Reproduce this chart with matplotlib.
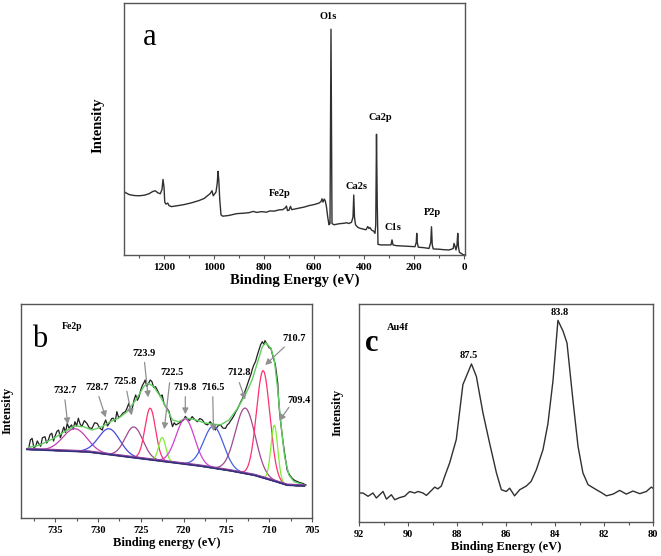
import numpy as np
import matplotlib
matplotlib.use("Agg")
import matplotlib.pyplot as plt
from matplotlib.ticker import MultipleLocator

plt.rcParams['font.family'] = ['Liberation Serif', 'DejaVu Serif']
plt.rcParams['font.weight'] = 'bold'

# ---------------- Panel a : survey spectrum ----------------
a_energy = [1360, 1340, 1320, 1300, 1280, 1260, 1245, 1235, 1225, 1215, 1208, 1204, 1200, 1197,
            1192, 1185, 1180, 1170, 1150, 1120, 1090, 1060, 1040, 1025, 1015, 1008, 1003, 998,
            992, 987, 984, 981, 977, 972, 965, 940, 910, 880, 860, 843, 830, 810, 790, 776, 760,
            740, 725, 716, 710, 706, 700, 694, 689, 680, 660, 640, 620, 600, 580, 572, 568, 564,
            559, 555, 550, 545, 540, 536, 534, 532, 530, 528, 520, 500, 480, 470, 460, 450, 444,
            441, 438, 434, 425, 416, 400, 392, 385, 380, 376, 370, 362, 356, 353, 350, 347, 344,
            330, 300, 292, 288, 284, 270, 250, 229, 210, 196, 191, 189, 187, 183, 160, 140, 133,
            130, 127, 123, 100, 80, 60, 50, 43, 40, 36, 32, 28, 25, 22, 18, 12, 5, -4]
a_intensity = [25.1, 24.0, 23.6, 23.5, 23.7, 24.3, 25.2, 25.5, 24.7, 24.3, 26.0, 30.0, 27.0, 21.0,
               20.2, 20.6, 19.6, 19.2, 19.5, 20.0, 20.7, 21.6, 22.4, 23.6, 24.4, 25.5, 23.5, 24.2,
               25.0, 28.5, 33.2, 30.0, 22.0, 15.9, 15.4, 15.7, 16.4, 16.6, 16.8, 17.3, 16.9, 17.2,
               17.0, 17.5, 17.4, 17.9, 18.0, 18.6, 19.4, 17.6, 17.8, 19.3, 18.0, 18.2, 18.6, 19.0,
               19.6, 20.0, 20.6, 21.2, 22.3, 21.0, 22.2, 21.5, 19.0, 15.0, 12.0, 12.5, 55.0, 89.6,
               50.0, 12.5, 12.0, 12.4, 12.6, 12.8, 12.5, 13.0, 15.0, 23.8, 15.0, 12.0, 11.0, 10.6,
               10.2, 10.0, 11.3, 10.5, 10.9, 9.9, 9.5, 8.6, 12.0, 47.9, 20.0, 4.2, 4.0, 4.0, 4.0,
               6.0, 4.0, 3.7, 3.6, 3.5, 3.4, 3.3, 5.0, 8.6, 5.0, 3.1, 2.9, 2.6, 5.0, 11.2, 4.0,
               2.4, 2.3, 2.1, 2.0, 2.3, 2.6, 4.6, 3.5, 2.0, 4.0, 8.6, 3.0, 1.0, 0.7, 0.2, 0.0]
a_labels = ["O1s", "Ca2p", "Ca2s", "Fe2p", "C1s", "P2p"]
a_label_pos = [(544, 94.8), (336, 54.4), (428, 27.0), (736, 24.6), (284, 11.1), (128, 17.0)]

# ---------------- Panel b : Fe2p ----------------
b_energy = [738.1, 737.9, 737.7, 737.5, 737.3, 737.1, 736.95, 736.7, 736.5, 736.2, 736.0, 735.8,
            735.6, 735.4, 735.2, 735.0, 734.8, 734.6, 734.4, 734.2, 734.0, 733.8, 733.6, 733.4,
            733.1, 732.9, 732.7, 732.5, 732.3, 732.1, 731.9, 731.6, 731.3, 731.0, 730.7, 730.4,
            730.1, 729.8, 729.5, 729.3, 729.1, 728.9, 728.7, 728.4, 728.2, 728.0, 727.8, 727.6,
            727.4, 727.1, 726.8, 726.6, 726.4, 726.2, 726.0, 725.8, 725.6, 725.4, 725.2, 725.0,
            724.8, 724.6, 724.5, 724.3, 724.1, 723.9, 723.7, 723.5, 723.3, 723.1, 722.9, 722.7,
            722.5, 722.3, 722.1, 721.9, 721.7, 721.5, 721.3, 721.1, 720.9, 720.6, 720.3, 720.0,
            719.8, 719.6, 719.3, 719.0, 718.7, 718.4, 718.1, 717.8, 717.5, 717.2, 716.9, 716.6,
            716.3, 716.0, 715.7, 715.4, 715.1, 714.9, 714.7, 714.5, 714.3, 714.1, 713.9, 713.7,
            713.5, 713.3, 713.1, 712.9, 712.7, 712.5, 712.3, 712.1, 712.0, 711.8, 711.6, 711.4,
            711.2, 711.0, 710.8, 710.6, 710.5, 710.3, 710.2, 710.0, 709.8, 709.6, 709.5, 709.3,
            709.2, 709.0, 708.95, 708.8, 708.6, 708.4, 708.2, 708.0, 707.9, 707.6, 707.3, 707.0,
            706.7, 706.4, 706.1, 705.9, 705.7]
b_intensity = [32.6, 36.5, 37.2, 33.0, 33.3, 36.0, 34.9, 33.5, 37.5, 38.0, 35.0, 36.5, 39.0, 39.6,
               36.0, 38.5, 40.5, 41.1, 37.5, 40.0, 42.5, 40.0, 44.2, 42.0, 43.5, 41.5, 45.0, 43.0,
               46.6, 44.0, 42.7, 45.5, 44.2, 42.0, 41.9, 44.5, 44.2, 42.0, 41.1, 44.0, 45.8, 43.0,
               44.2, 46.5, 46.6, 45.0, 49.7, 47.0, 47.4, 49.0, 49.7, 51.5, 53.6, 50.0, 51.2, 55.0,
               57.5, 55.0, 56.7, 60.0, 62.1, 63.5, 64.5, 61.5, 62.9, 64.5, 63.7, 61.0, 61.4, 60.0,
               58.3, 56.7, 57.5, 53.5, 52.0, 51.0, 49.7, 46.0, 42.7, 44.5, 43.5, 44.2, 45.0, 45.8,
               47.5, 46.6, 45.5, 47.4, 46.0, 45.0, 46.5, 45.8, 44.0, 43.5, 45.0, 43.5, 41.1, 43.0,
               43.5, 42.0, 41.9, 43.5, 44.2, 45.5, 46.6, 48.0, 49.7, 51.0, 52.8, 54.5, 55.9, 58.5,
               60.6, 63.0, 65.3, 67.5, 69.2, 71.5, 73.1, 76.0, 78.5, 81.0, 82.4, 81.0, 82.9, 81.5,
               80.8, 79.5, 79.3, 76.0, 74.6, 72.0, 69.2, 63.0, 58.3, 50.0, 42.7, 36.0, 30.2, 25.0,
               22.4, 20.0, 18.5, 17.5, 17.0, 16.5, 16.2, 15.8, 15.4]
b_env_energy = [738.1, 736.8, 735.2, 733.6, 732.7, 731.7, 730.7, 729.5, 728.6, 727.6, 726.6,
                725.6, 724.6, 724.1, 723.5, 722.7, 721.9, 721.3, 720.6, 719.8, 718.8, 717.6,
                716.6, 715.7, 714.7, 713.7, 712.7, 712.0, 711.4, 710.8, 710.4, 709.8, 709.4,
                709.0, 708.6, 708.2, 707.7, 707.1, 705.9]
b_env_intensity = [33.0, 34.1, 37.2, 41.1, 43.0, 42.7, 41.1, 42.7, 45.0, 46.6, 49.7, 55.1, 61.7,
                   62.9, 61.4, 56.7, 50.5, 45.8, 45.0, 46.6, 46.1, 44.5, 43.9, 43.5, 45.8, 51.2,
                   58.3, 64.5, 72.3, 80.1, 81.9, 79.3, 73.8, 59.8, 42.7, 28.7, 20.1, 17.0, 15.4]
b_bg_energy = [738.3, 731.3, 721.9, 718.8, 714.9, 711.8, 709.8, 707.9, 705.9]
b_bg_intensity = [32.1, 31.0, 26.3, 24.8, 22.4, 20.1, 17.8, 15.4, 15.0]
b_peak_centers = [732.7, 728.7, 725.8, 723.9, 722.5, 719.8, 716.5, 712.8, 710.7, 709.4]
b_peak_heights = [10.5, 12.0, 14.3, 24.0, 11.0, 21.0, 19.5, 30.5, 50.0, 26.0]
b_peak_sigmas = [1.4, 1.25, 1.03, 0.62, 0.42, 1.08, 1.16, 1.16, 0.78, 0.40]
b_peak_colors = ['#c040b0', '#4848e0', '#a04890', '#ff3070', '#80f030',
                 '#d040d0', '#4860e0', '#a04890', '#ff3070', '#80f030']
b_label_text = ["732.7", "728.7", "725.8", "723.9", "722.5", "719.8", "716.5", "712.8", "710.7", "709.4"]
b_label_pos = [(733.8, 59.8), (730.1, 61.2), (726.8, 63.6), (724.6, 77.1), (721.3, 67.8),
               (719.8, 61.2), (716.6, 61.2), (713.5, 67.8), (707.1, 84.1), (706.5, 55.1)]
b_arrow_tail = [(733.9, 56.5), (730.0, 58.0), (726.7, 60.5), (724.6, 74.0), (721.6, 64.5),
                (719.8, 58.0), (716.6, 58.0), (713.6, 64.5), (708.0, 80.8), (707.5, 52.8)]
b_arrow_head = [(733.5, 42.5), (729.0, 45.8), (726.0, 46.7), (724.1, 55.1), (722.3, 40.2),
                (719.8, 47.2), (716.5, 39.3), (712.7, 54.2), (710.7, 70.6), (709.0, 44.4)]

# ---------------- Panel c : Au4f ----------------
c_energy = [92.0, 91.84, 91.63, 91.43, 91.29, 91.02, 90.88, 90.68, 90.54, 90.34, 90.14, 89.93,
            89.73, 89.59, 89.39, 89.25, 89.12, 88.91, 88.78, 88.64, 88.50, 88.30, 88.03, 87.76,
            87.62, 87.41, 87.21, 86.94, 86.67, 86.39, 86.19, 85.99, 85.85, 85.65, 85.44, 85.17,
            84.97, 84.76, 84.49, 84.29, 84.08, 83.88, 83.67, 83.51, 83.27, 83.06, 82.86, 82.65,
            82.31, 82.11, 81.90, 81.63, 81.36, 81.09, 80.82, 80.54, 80.27, 80.07, 80.0]
c_intensity = [13.3, 13.3, 11.8, 13.3, 11.0, 14.0, 10.5, 12.5, 10.2, 11.2, 11.8, 14.0, 13.3, 14.0,
               13.3, 12.2, 13.6, 16.0, 15.2, 16.5, 21.0, 27.1, 37.8, 63.0, 66.8, 72.5, 66.8, 50.0,
               36.2, 22.5, 14.8, 14.0, 15.5, 12.0, 14.8, 16.5, 18.7, 24.0, 33.2, 45.0, 65.0, 92.5,
               87.5, 82.1, 56.1, 34.7, 22.5, 17.1, 14.8, 13.5, 12.0, 12.8, 14.5, 12.8, 14.2, 13.0,
               14.0, 16.0, 15.5]
c_labels = ["87.5", "83.8"]
c_label_pos = [(87.52, 76.6), (83.81, 95.9)]

W, H = 661, 556
fig = plt.figure(figsize=(W / 100, H / 100), dpi=100)
fig.patch.set_facecolor('white')

line_col = '#303030'
spine_col = '#555555'


def style_axes(ax, tick_fs):
    for s in ax.spines.values():
        s.set_color(spine_col)
        s.set_linewidth(1.0)
    ax.set_yticks([])
    ax.tick_params(axis='x', which='major', direction='out', length=3, width=0.8,
                   colors=spine_col, labelcolor='black', labelsize=tick_fs, pad=3)
    ax.tick_params(axis='x', which='minor', direction='out', length=2, width=0.8, colors=spine_col)
    for lbl in ax.get_xticklabels():
        lbl.set_fontweight('bold')


# Panel a
axa = fig.add_axes([124 / W, 1 - 255 / H, 341 / W, 252 / H])
axa.plot(a_energy, a_intensity, color=line_col, lw=1.0)
axa.set_xlim(1360, -4)
axa.set_ylim(0, 100)
axa.xaxis.set_major_locator(MultipleLocator(200))
axa.xaxis.set_minor_locator(MultipleLocator(100))
style_axes(axa, 8)
axa.set_xlabel("Binding Energy (eV)", fontsize=10.5, fontweight='bold', labelpad=1)
axa.text(1256, 86.5, "a", fontsize=22, fontweight='normal', ha='center', va='center')
for t, (x, y) in zip(a_labels, a_label_pos):
    axa.text(x, y, t, fontsize=7.5, fontweight='bold', ha='center', va='center')
fig.text(98 / W, 1 - 125 / H, "Intensity", rotation=90, fontsize=10.5, fontweight='bold',
         ha='center', va='center')

# Panel b
axb = fig.add_axes([21 / W, 1 - 518 / H, 291 / W, 214 / H])
xb = np.linspace(738.3, 705.9, 600)
bg = np.interp(xb, b_bg_energy[::-1], b_bg_intensity[::-1])
axb.plot(b_energy, b_intensity, color='#202020', lw=0.9)
axb.plot(b_env_energy, b_env_intensity, color='#60d060', lw=1.0)
for c, h, s, col in zip(b_peak_centers, b_peak_heights, b_peak_sigmas, b_peak_colors):
    axb.plot(xb, bg + h * np.exp(-(xb - c) ** 2 / (2 * s ** 2)), color=col, lw=0.9)
axb.plot(xb, bg, color='#303080', lw=1.4)
axb.plot(xb, bg + 0.5, color='#9040a0', lw=0.7)
axb.set_xlim(739, 705)
axb.set_ylim(0, 100)
axb.xaxis.set_major_locator(MultipleLocator(5))
axb.xaxis.set_minor_locator(MultipleLocator(2.5))
style_axes(axb, 7.5)
axb.set_xlabel("Binding energy (eV)", fontsize=9, fontweight='bold', labelpad=1)
axb.text(736.8, 83.2, "b", fontsize=22, fontweight='normal', ha='center', va='center')
axb.text(733.0, 89.3, "Fe2p", fontsize=7, fontweight='bold', ha='center', va='center')
for t, (x, y), tail, head in zip(b_label_text, b_label_pos, b_arrow_tail, b_arrow_head):
    axb.text(x, y, t, fontsize=7.5, fontweight='bold', ha='center', va='center')
    axb.annotate("", xy=head, xytext=tail,
                 arrowprops=dict(arrowstyle='-|>,head_length=0.35,head_width=0.18',
                                 color='#909090', lw=0.9))
fig.text(8 / W, 1 - 410 / H, "Intensity", rotation=90, fontsize=9, fontweight='bold',
         ha='center', va='center')

# Panel c
axc = fig.add_axes([359 / W, 1 - 522 / H, 294 / W, 218 / H])
axc.plot(c_energy, c_intensity, color=line_col, lw=1.0)
axc.set_xlim(92, 80)
axc.set_ylim(0, 100)
axc.xaxis.set_major_locator(MultipleLocator(2))
axc.xaxis.set_minor_locator(MultipleLocator(1))
style_axes(axc, 7.5)
axc.set_xlabel("Binding Energy (eV)", fontsize=9, fontweight='bold', labelpad=1)
axc.text(91.5, 82, "c", fontsize=22, fontweight='bold', ha='center', va='center')
axc.text(90.42, 89, "Au4f", fontsize=7.5, fontweight='bold', ha='center', va='center')
for t, (x, y) in zip(c_labels, c_label_pos):
    axc.text(x, y, t, fontsize=7.5, fontweight='bold', ha='center', va='center')
fig.text(338 / W, 1 - 412 / H, "Intensity", rotation=90, fontsize=9, fontweight='bold',
         ha='center', va='center')

fig.savefig("out.png", dpi=100)
